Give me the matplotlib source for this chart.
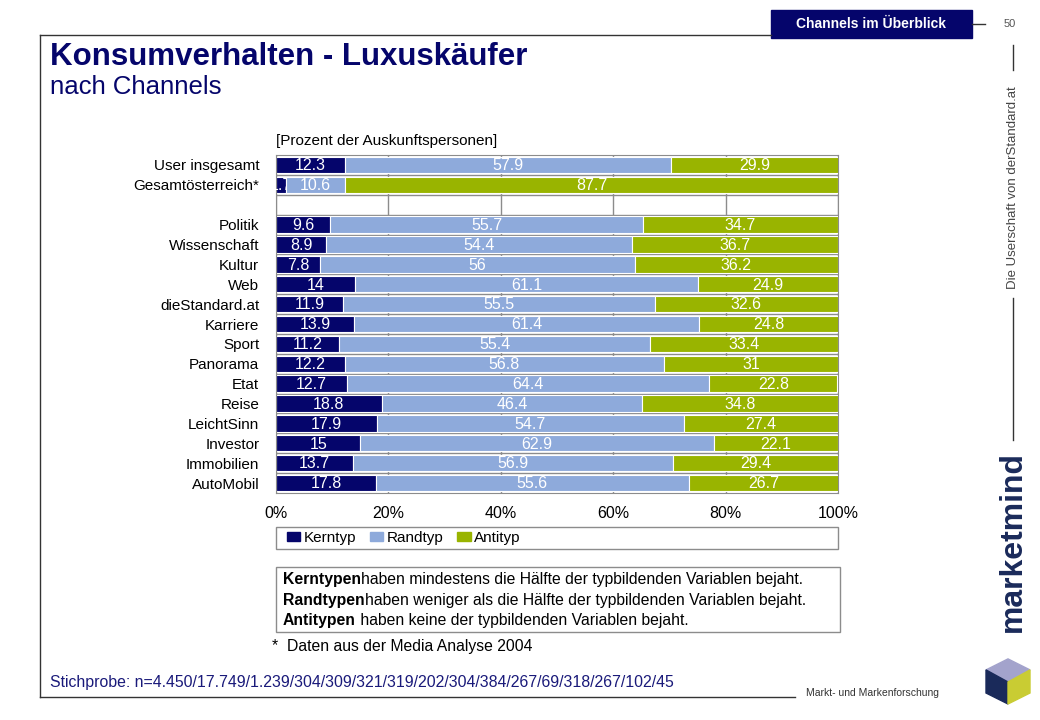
# Konsumverhalten - Luxuskaeufer nach Channels
import matplotlib
matplotlib.use('Agg')
from matplotlib import pyplot as plt
from matplotlib.patches import Rectangle, Polygon
from matplotlib.lines import Line2D

plt.rcParams['font.family'] = ['Liberation Sans', 'DejaVu Sans']

categories = ['User insgesamt', 'Gesamtösterreich*', '', 'Politik', 'Wissenschaft', 'Kultur',
              'Web', 'dieStandard.at', 'Karriere', 'Sport', 'Panorama', 'Etat', 'Reise',
              'LeichtSinn', 'Investor', 'Immobilien', 'AutoMobil']
kerntyp = [12.3, 1.7, None, 9.6, 8.9, 7.8, 14, 11.9, 13.9, 11.2, 12.2, 12.7, 18.8, 17.9, 15, 13.7, 17.8]
randtyp = [57.9, 10.6, None, 55.7, 54.4, 56, 61.1, 55.5, 61.4, 55.4, 56.8, 64.4, 46.4, 54.7, 62.9, 56.9, 55.6]
antityp = [29.9, 87.7, None, 34.7, 36.7, 36.2, 24.9, 32.6, 24.8, 33.4, 31, 22.8, 34.8, 27.4, 22.1, 29.4, 26.7]
series_names = ['Kerntyp', 'Randtyp', 'Antityp']
colors = ['#05056b', '#8eaadb', '#99b400']
xticks = [0, 20, 40, 60, 80, 100]

W, H = 1040, 720
def fx(x): return x / W
def fy(y): return 1 - y / H

fig = plt.figure(figsize=(10.4, 7.2), dpi=100)
fig.patch.set_facecolor('white')

ax = fig.add_axes([fx(276), fy(493), fx(838) - fx(276), fy(155) - fy(493)])
n = len(categories)
ypos = list(range(n))
left = [0] * n
handles = []
for k, (vals, col, name) in enumerate(zip([kerntyp, randtyp, antityp], colors, series_names)):
    for i, v in enumerate(vals):
        if v is None:
            continue
        ax.barh(i, v, left=left[i], height=0.82, color=col, edgecolor='white', linewidth=0.8,
                zorder=2 + 2 * k)
        lbl = ('%g' % v)
        ax.text(left[i] + v / 2, i + 0.04, lbl, ha='center', va='center', color='white',
                fontsize=11.5, zorder=3 + 2 * k)
        left[i] += v
    handles.append(Rectangle((0, 0), 1, 1, color=col, label=name))

ax.set_xlim(0, 100)
ax.set_ylim(n - 0.5, -0.5)
ax.set_xticks(xticks)
ax.set_xticklabels(['%d%%' % t for t in xticks], fontsize=11.5)
ax.set_yticks(ypos)
ax.set_yticklabels(categories, fontsize=11)
ax.set_yticks([i + 0.5 for i in range(n - 1)], minor=True)
ax.tick_params(axis='both', which='both', length=0)
ax.tick_params(axis='y', pad=12)
ax.tick_params(axis='x', pad=9)
ax.grid(axis='x', color='#8c8c8c', linewidth=1, zorder=0)
ax.grid(axis='y', which='minor', color='#8c8c8c', linewidth=1, zorder=0)
ax.set_axisbelow(True)
for s in ax.spines.values():
    s.set_color('#8c8c8c')

fig.text(fx(276), fy(141), '[Prozent der Auskunftspersonen]', fontsize=11, va='center')

# legend box
fig.patches.append(Rectangle((fx(276), fy(549)), fx(838) - fx(276), fy(527) - fy(549),
                             transform=fig.transFigure, fill=False, edgecolor='#8c8c8c', lw=1))
fig.legend(handles=handles, loc='center left', bbox_to_anchor=(fx(279), fy(538)), frameon=False,
           ncol=3, fontsize=11, handlelength=0.9, handleheight=0.6, handletextpad=0.2,
           columnspacing=0.9, borderpad=0)

# explanation box
fig.patches.append(Rectangle((fx(276), fy(632)), fx(840) - fx(276), fy(567) - fy(632),
                             transform=fig.transFigure, fill=False, edgecolor='#8c8c8c', lw=1))
expl = [('Kerntypen', 'haben mindestens die Hälfte der typbildenden Variablen bejaht.'),
        ('Randtypen', 'haben weniger als die Hälfte der typbildenden Variablen bejaht.'),
        ('Antitypen', ' haben keine der typbildenden Variablen bejaht.')]
for j, (b, r) in enumerate(expl):
    t = fig.text(fx(283), fy(587 + j * 20.5), b, fontsize=11.3, fontweight='bold', va='bottom')
    fig.texts.append(plt.Annotation(r, xy=(1, 0), xycoords=t, va='bottom', fontsize=11.3))
    fig.texts[-1].set_figure(fig)

fig.text(fx(272), fy(646), '*  Daten aus der Media Analyse 2004', fontsize=11.3, va='center')
fig.text(fx(50), fy(683), 'Stichprobe: n=4.450/17.749/1.239/304/309/321/319/202/304/384/267/69/318/267/102/45',
         fontsize=11.4, va='center', color='#1a1a7a')

# title
fig.text(fx(50), fy(57), 'Konsumverhalten - Luxuskäufer', fontsize=22.5, fontweight='bold',
         color='#05056b', va='center')
fig.text(fx(50), fy(87), 'nach Channels', fontsize=18.5, color='#05056b', va='center')

# frame lines
for (x0, y0, x1, y1) in [(40, 35, 40, 697), (40, 35, 771, 35), (40, 697, 795, 697),
                         (972, 24, 985, 24), (1013, 45, 1013, 70), (1013, 298, 1013, 440)]:
    fig.lines.append(Line2D([fx(x0), fx(x1)], [fy(y0), fy(y1)], transform=fig.transFigure,
                            color='#333333', lw=1))

# header box
fig.patches.append(Rectangle((fx(771), fy(38)), fx(972) - fx(771), fy(10) - fy(38),
                             transform=fig.transFigure, color='#05056b'))
fig.text(fx(871), fy(24), 'Channels im Überblick', fontsize=10, fontweight='bold',
         color='white', ha='center', va='center')
fig.text(fx(1010), fy(24), '50', fontsize=8, color='#555555', ha='center', va='center')

fig.text(fx(1013), fy(188), 'Die Userschaft von derStandard.at', fontsize=9.5, color='#444444',
         rotation=90, ha='center', va='center')
fig.text(fx(1013), fy(542), 'marketmind', fontsize=23, fontweight='bold', color='#1a2a5a',
         rotation=90, ha='center', va='center')
fig.text(fx(872), fy(693), 'Markt- und Markenforschung', fontsize=7.5, color='#333333',
         ha='center', va='center')

# logo (simple cube)
cx, cy, r = 1008, 682, 22
top = [(cx, cy), (cx - r, cy - r * 0.55), (cx, cy - r * 1.05), (cx + r, cy - r * 0.55)]
lft = [(cx, cy), (cx - r, cy - r * 0.55), (cx - r, cy + r * 0.5), (cx, cy + r * 1.0)]
rgt = [(cx, cy), (cx + r, cy - r * 0.55), (cx + r, cy + r * 0.5), (cx, cy + r * 1.0)]
for pts, c in [(top, '#a3a3cc'), (lft, '#1a2a5a'), (rgt, '#c9cc33')]:
    fig.patches.append(Polygon([(fx(a), fy(b)) for a, b in pts], closed=True,
                               transform=fig.transFigure, color=c))

fig.savefig('out.png', dpi=100)
